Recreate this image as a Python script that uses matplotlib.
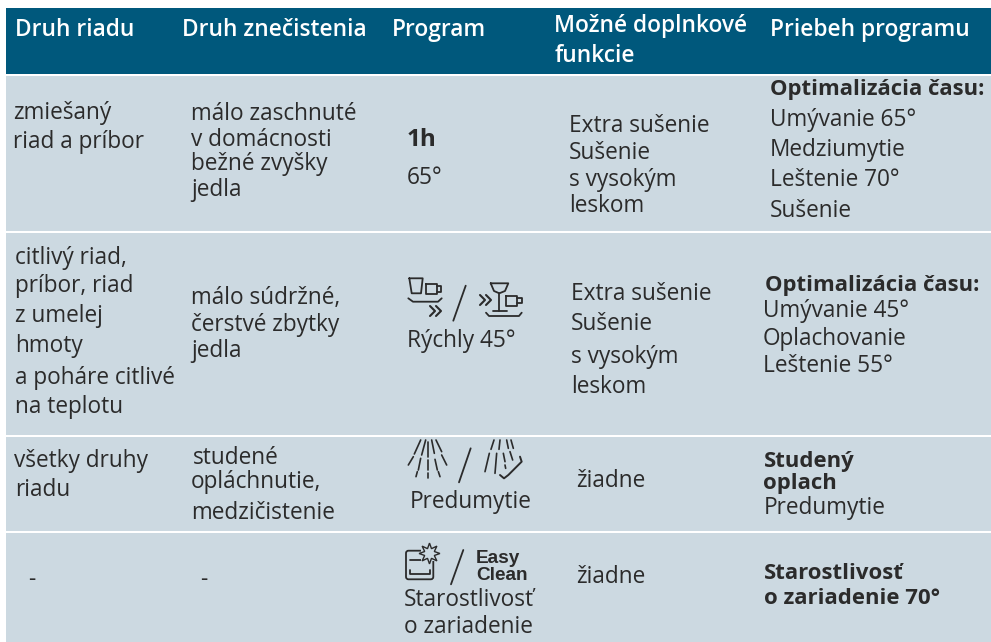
import matplotlib
matplotlib.use("Agg")
import matplotlib.pyplot as plt
from matplotlib.patches import Rectangle, FancyBboxPatch

FONT = 'Open Sans'
DARK = '#2b2b2b'
LIGHT = '#ccd9e1'

headers = ['Druh riadu', 'Druh znečistenia', 'Program', 'Možné doplnkové', 'funkcie', 'Priebeh programu']
col1 = ['zmiešaný', 'riad a príbor',
        'citlivý riad,', 'príbor, riad', 'z umelej', 'hmoty', 'a poháre citlivé', 'na teplotu',
        'všetky druhy', 'riadu', '-']
col2 = ['málo zaschnuté', 'v domácnosti', 'bežné zvyšky', 'jedla',
        'málo súdržné,', 'čerstvé zbytky', 'jedla',
        'studené', 'opláchnutie,', 'medzičistenie', '-']
col3 = ['65°', 'Rýchly 45°', 'Predumytie', 'Starostlivosť', 'o zariadenie']
col4 = ['Extra sušenie', 'Sušenie', 's vysokým', 'leskom',
        'Extra sušenie', 'Sušenie', 's vysokým', 'leskom',
        'žiadne', 'žiadne']
col5_bold = ['Optimalizácia času:', 'Optimalizácia času:', 'Studený', 'oplach', 'Starostlivosť', 'o zariadenie 70°']
col5 = ['Umývanie 65°', 'Medziumytie', 'Leštenie 70°', 'Sušenie',
        'Umývanie 45°', 'Oplachovanie', 'Leštenie 55°',
        'Predumytie']

fig = plt.figure(figsize=(9.91, 6.42), dpi=100)
ax = fig.add_axes([0, 0, 1, 1])
ax.set_xlim(0, 991)
ax.set_ylim(642, 0)
ax.axis('off')

ax.add_patch(Rectangle((6, 8), 985, 66, fc='#00587c', ec='none'))
for top, bottom in [(76, 231), (233, 435), (437, 531), (533, 642)]:
    ax.add_patch(Rectangle((6, top), 985, bottom - top, fc=LIGHT, ec='none'))


def put(lines, xs, ys, size=16.3, weight='normal', color=DARK, family=FONT):
    for s, x, y in zip(lines, xs, ys):
        ax.text(x, y, s, fontsize=size, fontweight=weight, color=color, family=family,
                va='baseline', ha='left')


put(headers, [15, 182, 392, 554, 555, 770], [36, 36, 36, 32, 62, 36], size=16.4, weight='semibold', color='white')
put(col1, [13, 13, 15, 15, 15, 15, 15, 15, 14, 15, 28], [119, 148, 264, 292, 322, 352, 384, 413, 467, 496, 586])
put(col2, [191, 191, 191, 191, 191, 191, 191, 193, 191, 191, 200], [120, 146, 170, 196, 304, 331, 357, 464, 488, 519, 586])
put(col3, [407, 407, 410, 404, 404], [184, 347, 508, 606, 633])
put(col4, [569, 569, 569, 569, 571, 571, 571, 571, 576, 576], [132, 159, 186, 212, 300, 330, 363, 393, 487, 583])
put(col5_bold, [770, 765, 764, 763, 764, 764], [95, 291, 467, 489, 579, 604], size=15.9, weight='bold')
put(col5, [770, 770, 770, 770, 763, 763, 763, 764], [126, 156, 186, 217, 317, 345, 372, 514])
put(['1h'], [407], [146], size=17.5, weight='bold')


def line(xs, ys, lw=1.3):
    ax.plot(xs, ys, color=DARK, lw=lw, solid_capstyle='round', solid_joinstyle='round')


def chevrons(x, y):
    for dx in (0, 6):
        line([x + dx, x + dx + 5, x + dx], [y, y + 5, y + 10], lw=1.5)


# quick programme icons
line([409.3, 411.7, 421, 422.7, 409.3], [278.3, 293.3, 293.3, 278.3, 278.3])
line([426, 436.7, 436.7, 426, 426], [284, 284, 294, 294, 284])
line([436.7, 441, 441, 436.7], [286, 286, 291.7, 291.7])
line([408.3, 413, 438, 441.7], [298.3, 301.7, 301.7, 298.3])
chevrons(430, 306)
line([465.7, 453.3], [285.7, 320.7])
chevrons(480, 295)
line([490.7, 508.3, 505, 499.3, 494, 490.7], [283.3, 283.3, 291, 293.3, 291, 283.3])
line([499.3, 499.3], [293.3, 310.7])
line([492.7, 506.7], [310.7, 310.7])
line([506, 517.3, 517.3, 506, 506], [296, 296, 306, 306, 296])
line([517.3, 521.7, 521.7, 517.3], [297.7, 297.7, 303.3, 303.3])
line([486, 489, 519, 521.7], [312.7, 316, 316, 312.7])

# spray icons, strokes
spray_left = [(122, 30, 103, 72), (137, 30, 125, 75), (143, 35, 143, 80), (155, 30, 163, 70), (168, 30, 185, 65),
              (100, 80, 85, 105), (122, 85, 115, 120), (143, 90, 143, 120), (165, 88, 172, 120), (185, 75, 200, 105),
              (112, 125, 108, 140), (143, 130, 143, 145), (175, 125, 180, 140)]
spray_right = [(342, 30, 333, 58), (360, 30, 357, 58), (380, 30, 385, 55), (393, 30, 400, 55),
               (328, 70, 315, 125), (350, 70, 345, 130), (370, 70, 375, 95), (390, 65, 398, 90),
               (375, 105, 377, 115)]
for x0, y0, x1, y1 in spray_left + spray_right:
    line([380 + x0 / 3, 380 + x1 / 3], [430 + y0 / 3, 430 + y1 / 3], lw=1.2)
line([380 + 272 / 3, 380 + 237 / 3], [430 + 55 / 3, 430 + 157 / 3])
hand_x = [360, 372, 385, 425, 420]
hand_y = [135, 145, 135, 95, 80]
line([380 + v / 3 for v in hand_x], [430 + v / 3 for v in hand_y], lw=1.4)

# machine care icon
ax.add_patch(FancyBboxPatch((406, 550.7), 27.3, 28.6, boxstyle='round,pad=0,rounding_size=2.5', fc='none', ec=DARK, lw=1.3))
line([410, 423], [560, 560])
line([410, 410, 430, 430], [570, 574, 574, 570])
ax.plot([429.3], [552.7], marker='s', ms=11, mew=0, color=LIGHT)
ax.plot([429.3], [552.7], marker=(8, 1, 0), ms=15, mew=1, mfc=LIGHT, mec=DARK)
line([463.3, 451], [550, 584.3])
put(['Easy', 'Clean'], [476, 476], [563, 580], size=13.7, weight='bold', family='Liberation Sans')

fig.savefig('out.png', dpi=100)
